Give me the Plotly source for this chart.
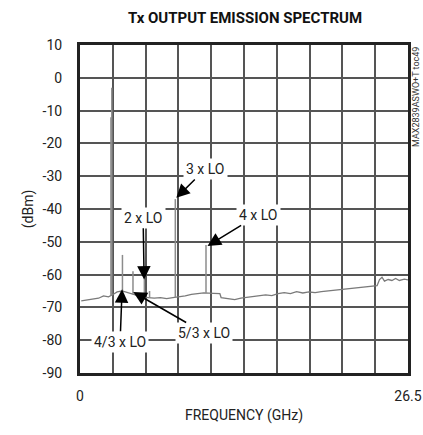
import plotly.graph_objects as go

# Noise floor (GHz, dBm)
floor_freq = [0.1, 0.5, 1.0, 1.5, 1.9, 2.3, 2.7, 3.0, 3.4, 3.8, 4.2, 4.6, 5.0, 5.5, 6.0, 6.5,
              7.0, 7.5, 8.0, 8.5, 9.0, 9.5, 10.0, 10.8, 11.3, 11.4, 12.0, 12.5, 13.0, 13.5,
              14.0, 14.5, 15.0, 15.5, 16.0, 16.5, 17.0, 17.5, 18.0, 18.5, 19.0, 19.5, 20.0,
              20.5, 21.0, 21.5, 22.0, 22.5, 23.0, 23.5, 24.0, 24.2, 24.4, 24.6, 24.9, 25.2,
              25.5, 25.8, 26.2, 26.5]
floor_dbm = [-68.0, -67.8, -67.5, -67.2, -66.5, -66.8, -66.0, -65.3, -65.0, -65.5, -66.0,
             -66.3, -66.8, -67.0, -67.2, -67.0, -67.3, -67.0, -66.8, -66.5, -66.0, -65.8,
             -65.6, -65.7, -65.8, -67.0, -67.3, -67.6, -67.2, -67.0, -66.8, -66.5, -66.2,
             -66.4, -65.8, -65.5, -65.8, -65.2, -65.6, -65.3, -65.5, -65.2, -65.0, -64.8,
             -64.7, -64.5, -64.2, -64.0, -63.8, -63.6, -63.4, -61.5, -60.8, -62.0, -61.5,
             -61.8, -61.2, -61.8, -61.4, -61.6]

# Spurs (GHz, peak dBm)
spur_freq = [2.50, 2.57, 3.43, 4.28, 5.20, 5.62, 7.70, 10.18]
spur_dbm = [-12.0, -3.0, -54.0, -59.0, -60.0, -65.0, -37.0, -51.0]

# Annotations: label, tip (GHz, dBm), label centre (GHz, dBm)
ann_text = ["3 x LO", "2 x LO", "4 x LO", "4/3 x LO", "5/3 x LO"]
ann_tip_f = [7.78, 5.18, 10.3, 3.40, 4.30]
ann_tip_d = [-36.6, -61.5, -51.3, -64.5, -65.3]
ann_lab_f = [10.13, 5.10, 14.40, 3.24, 10.05]
ann_lab_d = [-27.8, -42.7, -41.8, -80.5, -77.8]

x_ticks = [i * 2.65 for i in range(11)]
x_ticktext = ["0"] + [""] * 9 + ["26.5"]
y_ticks = list(range(-90, 11, 10))
y_ticktext = [str(v) for v in y_ticks]

FONT = "Roboto, Liberation Sans, Arial, sans-serif"

fig = go.Figure()

fig.add_trace(go.Scatter(x=floor_freq, y=floor_dbm, mode="lines",
                         line=dict(color="#7a7a7a", width=1.3), hoverinfo="skip"))

def floor_at(f):
    for i in range(len(floor_freq) - 1):
        if floor_freq[i] <= f <= floor_freq[i + 1]:
            t = (f - floor_freq[i]) / (floor_freq[i + 1] - floor_freq[i])
            return floor_dbm[i] + t * (floor_dbm[i + 1] - floor_dbm[i])
    return floor_dbm[-1]

sx, sy = [], []
for f, d in zip(spur_freq, spur_dbm):
    sx += [f, f, None]
    sy += [floor_at(f), d, None]
fig.add_trace(go.Scatter(x=sx, y=sy, mode="lines",
                         line=dict(color="#8c8c8c", width=1.5), hoverinfo="skip"))

for t, tf, td, lf, ld in zip(ann_text, ann_tip_f, ann_tip_d, ann_lab_f, ann_lab_d):
    fig.add_annotation(x=tf, y=td, ax=lf, ay=ld, xref="x", yref="y", axref="x", ayref="y",
                       text=t, showarrow=True, arrowhead=2, arrowsize=1.8, arrowwidth=1.5,
                       arrowcolor="black", bgcolor="white", borderpad=2,
                       font=dict(family=FONT, size=14, color="#222"))

fig.add_annotation(x=1.0, y=1.0, xref="paper", yref="paper", xanchor="left", yanchor="top",
                   xshift=1, text="MAX2839ASWO+T toc49",
                   showarrow=False, textangle=-90,
                   font=dict(family=FONT, size=9, color="#333"))

fig.update_layout(
    width=423, height=435,
    margin=dict(l=80, r=15, t=45, b=62),
    paper_bgcolor="white", plot_bgcolor="white",
    showlegend=False,
    title=dict(text="<b>Tx OUTPUT EMISSION SPECTRUM</b>", x=245 / 423, xanchor="center",
               y=1 - 18 / 435, yanchor="middle",
               font=dict(family=FONT, size=15, color="#111")),
    font=dict(family=FONT, size=14, color="#222"),
)
fig.update_xaxes(range=[0, 26.5], tickvals=x_ticks, ticktext=x_ticktext, automargin=False,
                 showgrid=True, gridcolor="#555", gridwidth=1.5, zeroline=False,
                 showline=True, linecolor="#222", linewidth=3, mirror=True,
                 ticks="", ticklabelstandoff=8,
                 title=dict(text="FREQUENCY (GHz)", standoff=8, font=dict(size=14)))
fig.update_yaxes(range=[-90, 10], tickvals=y_ticks, ticktext=y_ticktext, automargin=False,
                 showgrid=True, gridcolor="#555", gridwidth=1.5, zeroline=False,
                 showline=True, linecolor="#222", linewidth=3, mirror=True,
                 ticks="", ticklabelstandoff=12,
                 title=dict(text="(dBm)", standoff=6, font=dict(size=14)))

# remove the default page margin so the 423x435 figure fills the window exactly
fig.write_html("out.html", config={"displayModeBar": False},
               post_script="document.body.style.margin='0';document.body.style.overflow='hidden';")
